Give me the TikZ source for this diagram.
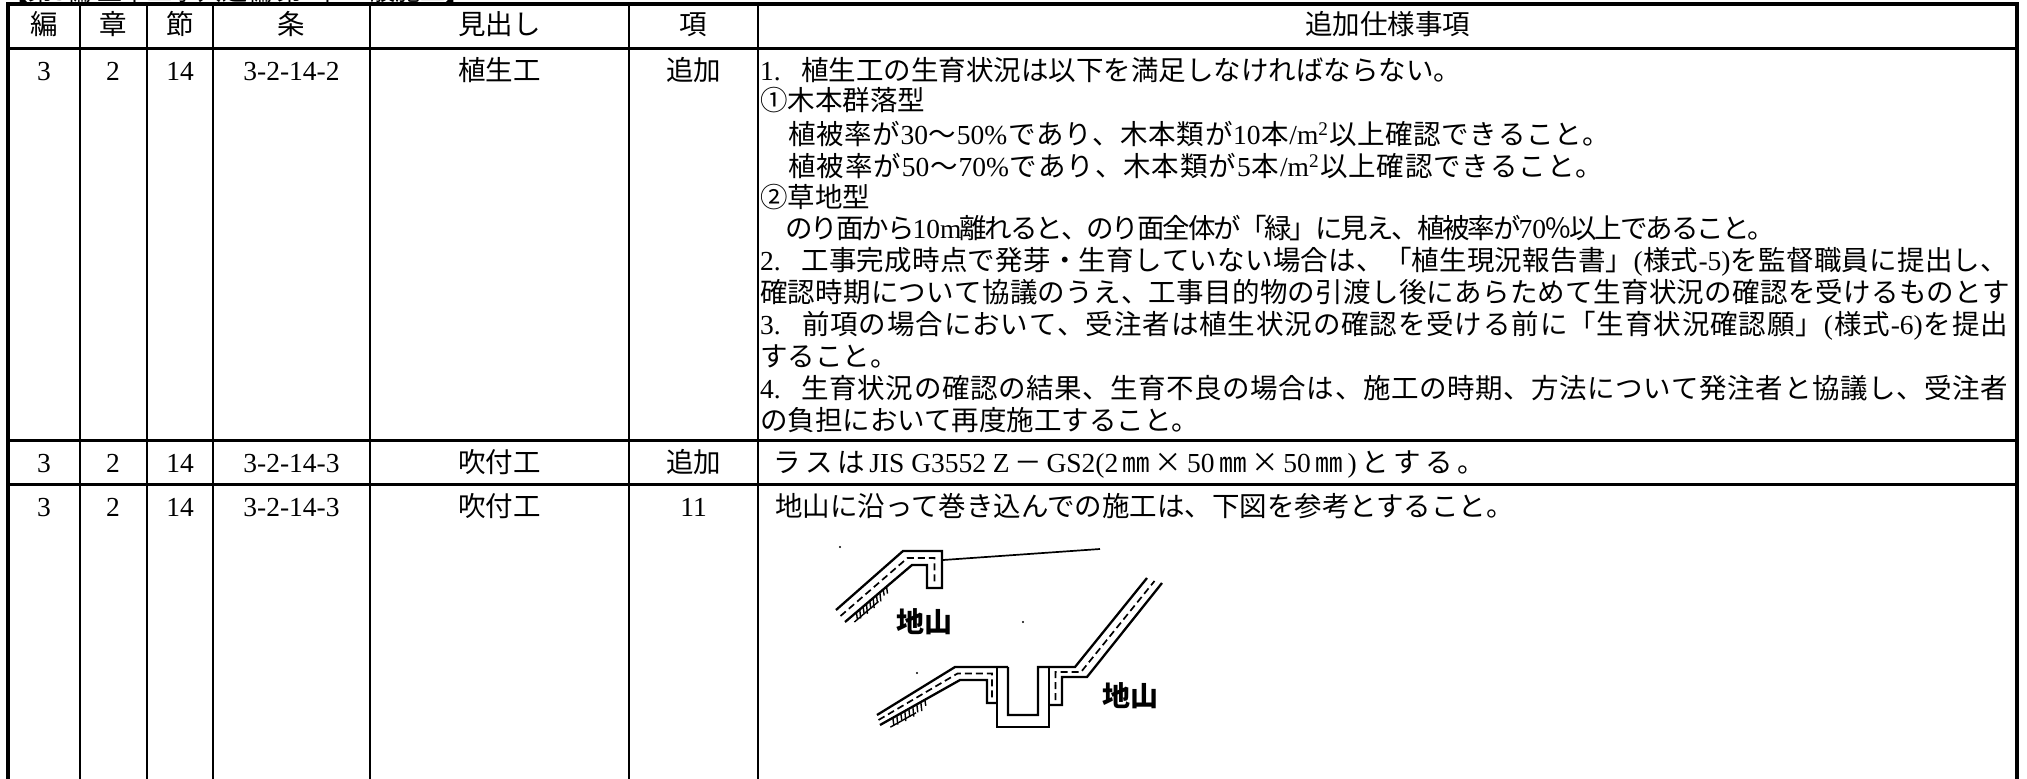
\documentclass[tikz,border=0pt]{standalone}
\usepackage{fontspec}
\setmainfont{Noto Sans CJK JP}
\newfontfamily\serf{Liberation Serif}
\newcommand\lt[1]{{\serf #1}}
\usetikzlibrary{calc}
\newcommand\tfont{\fontsize{27.5}{33}\selectfont}
\newcommand\lfont{\fontsize{28}{32}\selectfont\bfseries}
\newcommand\ttlfont{\fontsize{25}{30}\selectfont}
% spread (or squeeze) a line of single characters / braced groups to a given width
\makeatletter
\def\sp@mark{\sp@mark}
\def\sp@glue{\hskip 0pt plus 1fil minus 3pt\relax}
\def\sp@start#1{{#1}\sp@loop}
\def\sp@loop#1{\ifx\sp@mark#1\else\sp@glue{#1}\expandafter\sp@loop\fi}
\newcommand\spreadline[2]{\hbox to #1{\sp@start#2\sp@mark}}
\makeatother
\begin{document}
\begin{tikzpicture}[x=1pt,y=-1pt,
  txt/.style={inner sep=0pt, outer sep=0pt, anchor=base west, font=\tfont},
  ctr/.style={inner sep=0pt, outer sep=0pt, anchor=base, font=\tfont},
  lbl/.style={inner sep=0pt, outer sep=0pt, anchor=center, font=\lfont},
  border/.style={line width=4pt},
  hrule/.style={line width=3pt},
  vrule/.style={line width=2pt},
  fig/.style={line width=2.3pt, line join=miter},
  figthin/.style={line width=1.7pt},
  figdash/.style={line width=1.7pt, dash pattern=on 7pt off 4pt},
  hatch/.style={line width=1.4pt},
  speck/.style={fill=black}]
\fill[white] (0,0) rectangle (2027,779);
\useasboundingbox (0,0) rectangle (2027,779);

% title, cut off by the top edge
\begin{scope}
\clip (0,0) rectangle (2027,3);
\node[txt, font=\ttlfont] (title) at (4,0.3) {【第\lt{3}編 土木工事共通編 第\lt{2}章 一般施工】};
\end{scope}

% table rules
\draw[border] (6,4) -- (2019,4);
\draw[border] (8,4) -- (8,779);
\draw[border] (2017,4) -- (2017,779);
\draw[hrule] (8,48) -- (2017,48);
\draw[hrule] (8,440) -- (2017,440);
\draw[hrule] (8,484) -- (2017,484);
\foreach \x in {79.5,147,213,370,629,758} \draw[vrule] (\x,4) -- (\x,779);

% header
\node[ctr] (h1) at (44,34.5) {編};
\node[ctr] (h2) at (113,34.5) {章};
\node[ctr] (h3) at (180,34.5) {節};
\node[ctr] (h4) at (291.5,34.5) {条};
\node[ctr] (h5) at (499.5,34.5) {見出し};
\node[ctr] (h6) at (693.5,34.5) {項};
\node[ctr] (h7) at (1387.5,34.5) {追加仕様事項};

% row 1 left
\node[ctr] (a1) at (44,80.5) {\lt{3}};
\node[ctr] (a2) at (113,80.5) {\lt{2}};
\node[ctr] (a3) at (180,80.5) {\lt{14}};
\node[ctr] (a4) at (291.5,80.5) {\lt{3-2-14-2}};
\node[ctr] (a5) at (499.5,80.5) {植生工};
\node[ctr] (a6) at (693.5,80.5) {追加};

% row 1 right
\node[txt] (t1) at (760,80.5) {\lt{1.}\hspace{0.75em}植生工の生育状況は以下を満足しなければならない。};
\node[txt] (t2) at (760,110.5) {①木本群落型};
\node[txt] (t3) at (760,144.5) {\spreadline{850pt}{　植被率が{\serf 30}～{\serf 50\%}であり、木本類が{\serf 10}本{\serf /m\textsuperscript{2}}以上確認できること。}};
\node[txt] (t4) at (760,176.5) {\spreadline{843pt}{　植被率が{\serf 50}～{\serf 70\%}であり、木本類が{\serf 5}本{\serf /m\textsuperscript{2}}以上確認できること。}};
\node[txt] (t5) at (760,207.5) {②草地型};
\node[txt] (t6) at (760,238.5) {\spreadline{1015pt}{　のり面から{\serf 10m}離れると、のり面全体が「緑」に見え、植被率が{\serf 70}％以上であること。}};
\node[txt] (t7) at (760,270.5) {\spreadline{1248pt}{{\serf 2.\hspace{0.75em}}工事完成時点で発芽・生育していない場合は、「植生現況報告書」{\serf (}様式{\serf -5)}を監督職員に提出し、}};
\node[txt] (t8) at (760,302.5) {\spreadline{1250pt}{確認時期について協議のうえ、工事目的物の引渡し後にあらためて生育状況の確認を受けるものとす}};
\node[txt] (t9) at (760,334.5) {\spreadline{1248pt}{{\serf 3.\hspace{0.75em}}前項の場合において、受注者は植生状況の確認を受ける前に「生育状況確認願」{\serf (}様式{\serf -6)}を提出}};
\node[txt] (t10) at (760,366.5) {すること。};
\node[txt] (t11) at (760,398.5) {\spreadline{1248pt}{{\serf 4.\hspace{0.75em}}生育状況の確認の結果、生育不良の場合は、施工の時期、方法について発注者と協議し、受注者}};
\node[txt] (t12) at (760,430.5) {の負担において再度施工すること。};

% row 2
\node[ctr] (b1) at (44,472.5) {\lt{3}};
\node[ctr] (b2) at (113,472.5) {\lt{2}};
\node[ctr] (b3) at (180,472.5) {\lt{14}};
\node[ctr] (b4) at (291.5,472.5) {\lt{3-2-14-3}};
\node[ctr] (b5) at (499.5,472.5) {吹付工};
\node[ctr] (b6) at (693.5,472.5) {追加};
\node[txt] (t13) at (773,472.5) {\spreadline{712pt}{ラスは{\serf JIS G3552 Z}－{\serf GS2(2}㎜×{\serf 50}㎜×{\serf 50}㎜{\serf )}とする。}};

% row 3
\node[ctr] (c1) at (44,516.5) {\lt{3}};
\node[ctr] (c2) at (113,516.5) {\lt{2}};
\node[ctr] (c3) at (180,516.5) {\lt{14}};
\node[ctr] (c4) at (291.5,516.5) {\lt{3-2-14-3}};
\node[ctr] (c5) at (499.5,516.5) {吹付工};
\node[ctr] (c6) at (693.5,516.5) {\lt{11}};
\node[txt] (t14) at (775,516.5) {地山に沿って巻き込んでの施工は、下図を参考とすること。};

% ---- figure: upper (slope shoulder) ----
\draw[fig] (836,610) -- (903,551) -- (942,551) -- (942,588) -- (927,588) -- (927,565) -- (912,565) -- (845,622);
\draw[figdash] (840.5,616) -- (907.5,558) -- (934.5,558) -- (934.5,585);
\draw[figthin] (943,560) -- (1100,549);
\foreach \t/\l in {0.17/7,0.22/9,0.27/7,0.32/10,0.37/8,0.42/10,0.47/8,0.52/9,0.57/6,0.62/7}
  \draw[hatch] ($(845,622)!\t!(912,565)$) -- ++(1,\l);
\draw[hatch] ($(845,622)!0.14!(912,565)+(0,8)$) -- ($(845,622)!0.5!(912,565)+(0,8)$);

% ---- figure: lower (slope with ditch) ----
\draw[fig] (877,715) -- (955,667) -- (1008,667);
\draw[fig] (997,667) -- (997,727) -- (1049,727) -- (1049,667);
\draw[fig] (1008,667) -- (1008,715) -- (1038,715) -- (1038,667) -- (1075,667) -- (1147,578);
\draw[fig] (880,725) -- (960,680) -- (987,680) -- (987,703) -- (997,703);
\draw[fig] (1049,705) -- (1062,705) -- (1062,677) -- (1087,677) -- (1162,583);
\draw[figdash] (878.5,720) -- (957.5,673.5) -- (992,673.5) -- (992,700);
\draw[figdash] (1055.5,700) -- (1055.5,672) -- (1081,672) -- (1154.5,581);
\foreach \t/\l in {0.16/7,0.21/9,0.26/7,0.31/10,0.36/8,0.41/10,0.46/8,0.51/9,0.56/6}
  \draw[hatch] ($(880,725)!\t!(960,680)$) -- ++(1,\l);
\draw[hatch] ($(880,725)!0.13!(960,680)+(0,8)$) -- ($(880,725)!0.45!(960,680)+(0,8)$);

% specks
\fill[speck] (840,547) circle (1.2);
\fill[speck] (1023,622) circle (1.2);
\fill[speck] (917,673) circle (1.2);

% labels
\node[lbl] (g1) at (924.5,621.5) {地山};
\node[lbl] (g2) at (1130,696) {地山};
\end{tikzpicture}
\end{document}
